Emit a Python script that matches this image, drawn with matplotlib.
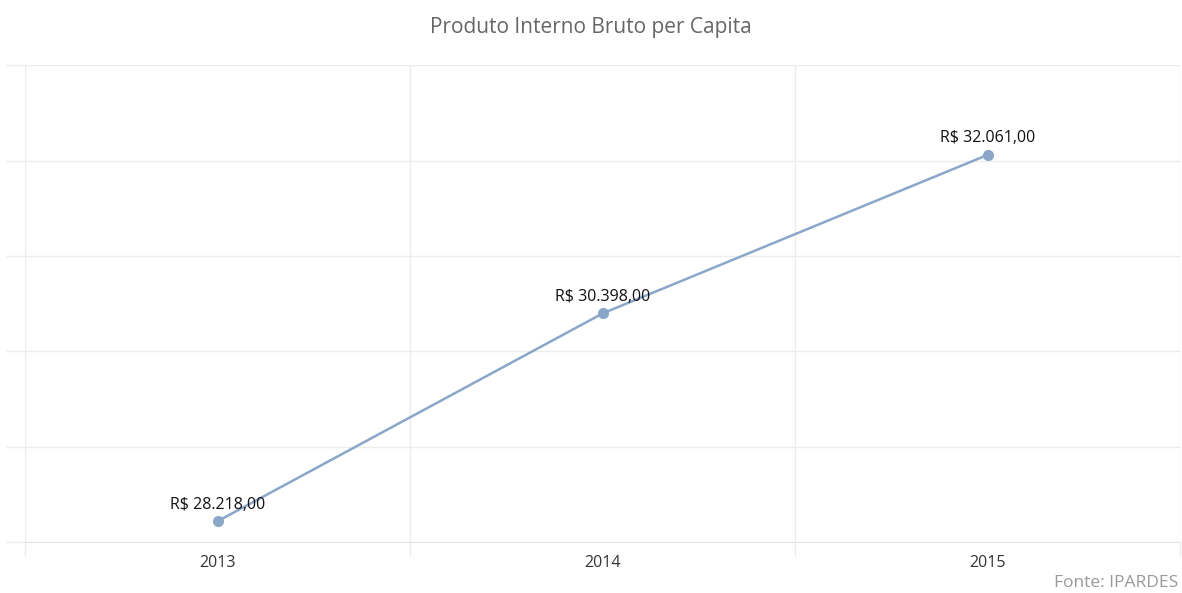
import matplotlib.pyplot as plt

anos = ['2013', '2014', '2015']
pib_per_capita = [28218, 30398, 32061]
rotulos = ['R$ 28.218,00', 'R$ 30.398,00', 'R$ 32.061,00']

plt.rcParams['font.family'] = ['Open Sans', 'DejaVu Sans']

fig = plt.figure(figsize=(11.82, 5.93), dpi=100)
ax = fig.add_axes([0.0212, 0.086, 0.9775, 0.804])

x = list(range(len(anos)))
ax.plot(x, pib_per_capita, color='#8aa7c9', linewidth=1.8, marker='o',
        markersize=7, zorder=3)
for xi, yi, txt in zip(x, pib_per_capita, rotulos):
    ax.annotate(txt, (xi, yi), xytext=(0, 6), textcoords='offset points',
                ha='center', va='bottom', fontsize=11.5, color='#111111')

ax.set_xlim(-0.5, 2.5)
ax.set_ylim(28000, 33000)
ax.set_yticks(range(28000, 33001, 1000))
ax.set_yticklabels([])
ax.set_xticks(x)
ax.set_xticklabels(anos, fontsize=11.5, color='#333333')
ax.set_xticks([-0.5, 0.5, 1.5, 2.5], minor=True)

ax.grid(axis='y', color='#ececec', linewidth=1)
ax.grid(axis='x', which='minor', color='#ececec', linewidth=1)
ax.tick_params(axis='y', length=14, color='#ececec', width=1)
ax.tick_params(axis='x', which='major', length=0, pad=9)
ax.tick_params(axis='x', which='minor', length=10, color='#ececec', width=1)
for s in ['top', 'right', 'left']:
    ax.spines[s].set_visible(False)
ax.spines['bottom'].set_color('#e4e4e4')

fig.text(0.5, 0.953, 'Produto Interno Bruto per Capita', ha='center', va='center',
         fontsize=15, color='#666666')
fig.text(0.997, 0.003, 'Fonte: IPARDES', ha='right', va='bottom',
         fontsize=12.5, color='#999999')

fig.savefig('out.png', dpi=100)
